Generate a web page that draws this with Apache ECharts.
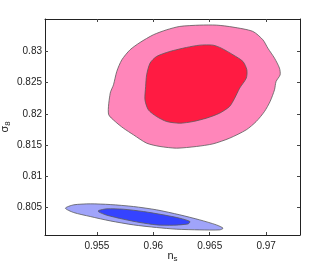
<!DOCTYPE html>
<html><head><meta charset="utf-8">
<script src="https://cdn.jsdelivr.net/npm/echarts@6/dist/echarts.min.js"></script>
<style>html,body{margin:0;padding:0;background:#fff}#c{width:332px;height:265px}</style>
</head><body><div id="c"></div>
<script>
const xTicks = [0.955, 0.96, 0.965, 0.97];
const yTicks = [0.805, 0.81, 0.815, 0.82, 0.825, 0.83];
const redOuter = [[0.95603,0.81996],[0.95618,0.82332],[0.95647,0.82466],[0.95676,0.82679],[0.95721,0.82866],[0.95794,0.83027],[0.95882,0.83144],[0.96,0.83267],[0.96118,0.83347],[0.96235,0.83401],[0.96412,0.83422],[0.96559,0.83422],[0.96706,0.8339],[0.96882,0.83321],[0.96971,0.83187],[0.97015,0.83053],[0.97074,0.82893],[0.97118,0.82733],[0.97124,0.82626],[0.97088,0.82519],[0.97074,0.82386],[0.97035,0.82199],[0.96985,0.82038],[0.96912,0.81878],[0.96824,0.81745],[0.96676,0.81611],[0.96529,0.8152],[0.96382,0.81478],[0.96206,0.81451],[0.96059,0.81478],[0.95941,0.81531],[0.95824,0.81665],[0.95735,0.81771],[0.95662,0.81878]];
const redInner = [[0.95926,0.82225],[0.95932,0.82439],[0.95941,0.82626],[0.95971,0.82813],[0.96029,0.8292],[0.96147,0.83],[0.96294,0.83064],[0.96412,0.83101],[0.96529,0.83101],[0.96603,0.83053],[0.96706,0.82947],[0.96794,0.8284],[0.96829,0.82706],[0.96824,0.82573],[0.96765,0.82412],[0.96721,0.82252],[0.96676,0.82119],[0.96588,0.82012],[0.96471,0.81932],[0.96353,0.81878],[0.96235,0.81851],[0.96118,0.81878],[0.96029,0.81958],[0.95956,0.82065]];
const blueOuter = [[0.95221,0.80489],[0.95294,0.80543],[0.95441,0.80559],[0.95618,0.80548],[0.95824,0.80516],[0.96029,0.80463],[0.96235,0.80383],[0.96412,0.80302],[0.96559,0.80222],[0.96618,0.80169],[0.96588,0.80142],[0.96412,0.80142],[0.96206,0.80153],[0.96029,0.8018],[0.95824,0.80222],[0.95618,0.80286],[0.95441,0.80356],[0.95294,0.8042]];
const blueInner = [[0.95515,0.80452],[0.95588,0.80479],[0.95735,0.80473],[0.95912,0.80436],[0.96088,0.80383],[0.96235,0.80329],[0.96324,0.80276],[0.96309,0.80238],[0.96176,0.80217],[0.96029,0.80222],[0.95882,0.8026],[0.95735,0.80313],[0.95588,0.80377],[0.95515,0.80431]];

const chart = echarts.init(document.getElementById('c'));
const font = 'Liberation Sans, Arial, sans-serif';
function contour(points, color) {
  return {
    type: 'custom', coordinateSystem: 'cartesian2d', xAxisIndex: 0, yAxisIndex: 0,
    data: [0], silent: true, animation: false,
    renderItem: function (params, api) {
      return {
        type: 'polygon',
        shape: { points: points.map(p => api.coord(p)), smooth: 0.25 },
        style: { fill: color, stroke: '#5a5a5a', lineWidth: 0.8 }
      };
    }
  };
}
const axisLine = { show: true, lineStyle: { color: '#222', width: 1 } };
const tickStyle = { lineStyle: { color: '#444', width: 1 } };
const nameRich = {
  n: { fontSize: 11, fontFamily: font, color: '#222' },
  s: { fontSize: 8, fontFamily: font, color: '#222', verticalAlign: 'bottom', padding: [6, 0, 0, 0] }
};
chart.setOption({
  animation: false,
  grid: { left: 45, right: 32, top: 19, bottom: 30, containLabel: false, outerBoundsMode: 'none' },
  xAxis: [
    { type: 'value', min: 0.9504, max: 0.973, position: 'bottom',
      axisLine: axisLine, splitLine: { show: false },
      axisTick: Object.assign({ show: true, inside: true, length: 3, customValues: xTicks }, tickStyle),
      axisLabel: { show: true, customValues: xTicks, color: '#222', fontSize: 10, fontFamily: font, margin: 6 },
      name: '{n|n}{s|s}', nameLocation: 'middle', nameGap: 14, nameMoveOverlap: false,
      nameTextStyle: { rich: nameRich }
    },
    { type: 'value', min: 0.9504, max: 0.973, position: 'top',
      axisLine: axisLine, splitLine: { show: false },
      axisTick: Object.assign({ show: true, inside: true, length: 3, customValues: xTicks }, tickStyle),
      axisLabel: { show: false }
    }
  ],
  yAxis: [
    { type: 'value', min: 0.8006, max: 0.8352, position: 'left',
      axisLine: axisLine, splitLine: { show: false },
      axisTick: Object.assign({ show: true, inside: true, length: 3, customValues: yTicks }, tickStyle),
      axisLabel: { show: true, customValues: yTicks, color: '#222', fontSize: 10, fontFamily: font, margin: 3 },
      name: '{n|σ}{s|8}', nameLocation: 'middle', nameGap: 33, nameRotate: 90, nameMoveOverlap: false,
      nameTextStyle: { rich: nameRich }
    },
    { type: 'value', min: 0.8006, max: 0.8352, position: 'right',
      axisLine: axisLine, splitLine: { show: false },
      axisTick: Object.assign({ show: true, inside: true, length: 3, customValues: yTicks }, tickStyle),
      axisLabel: { show: false }
    }
  ],
  series: [
    contour(redOuter, '#ff86ba'),
    contour(redInner, '#ff1b42'),
    contour(blueOuter, '#a0a4fa'),
    contour(blueInner, '#3543ff')
  ]
});
</script></body></html>
